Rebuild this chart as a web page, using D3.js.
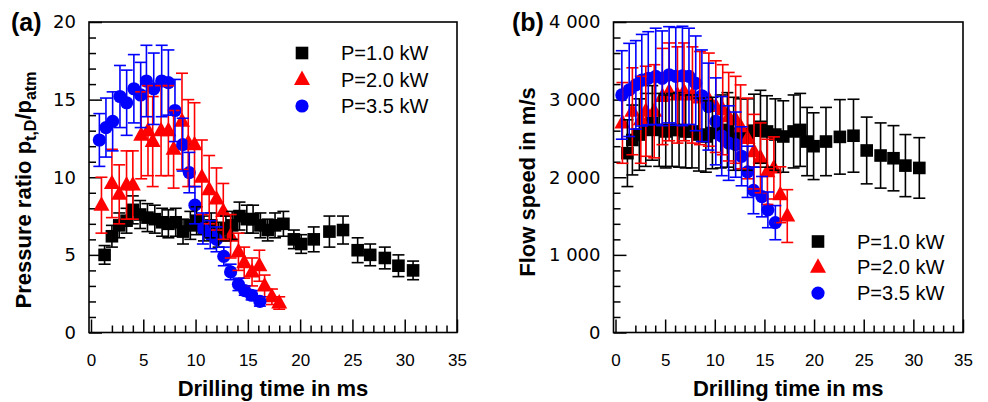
<!DOCTYPE html>
<html>
<head>
<meta charset="utf-8">
<script src="https://cdn.jsdelivr.net/npm/d3@7"></script>
<style>
body { margin: 0; background: #fff; }
svg { display: block; font-family: "Liberation Sans", Arial, sans-serif; }
</style>
</head>
<body>
<div id="chart"></div>
<script>
// series labels
var seriesNames = ["P=1.0 kW", "P=2.0 kW", "P=3.5 kW"];

// axis ticks
var xMajor = [0, 5, 10, 15, 20, 25, 30, 35];
var xMinor = [2, 3, 4, 6, 7, 8, 9, 11, 12, 13, 14, 16, 17, 18, 19, 21, 22, 23, 24, 26, 27, 28, 29, 31, 32, 33, 34];
var yMajorA = [0, 5, 10, 15, 20];
var yMinorA = [1, 2, 3, 4, 6, 7, 8, 9, 11, 12, 13, 14, 16, 17, 18, 19];
var yMajorB = [0, 1000, 2000, 3000, 4000];
var yMinorB = [200, 400, 600, 800, 1200, 1400, 1600, 1800, 2200, 2400, 2600, 2800, 3200, 3400, 3600, 3800];

// (a) pressure ratio
var timeA1 = [1.3, 2.0, 2.7, 3.4, 4.0, 4.7, 5.4, 6.1, 6.8, 7.4, 8.1, 8.8, 9.5, 10.1, 10.8, 11.5, 12.2, 12.9, 13.5, 14.2, 14.9, 15.5, 16.2, 16.9, 17.6, 18.4, 19.4, 20.1, 21.3, 22.8, 24.1, 25.5, 26.7, 28.1, 29.4, 30.8];
var ratioA1 = [5.0, 6.2, 6.9, 7.2, 7.9, 7.6, 7.4, 7.3, 7.1, 7.0, 7.1, 6.5, 6.9, 7.2, 6.7, 6.9, 6.3, 6.7, 6.9, 7.5, 7.3, 7.3, 6.9, 6.6, 6.9, 7.0, 6.0, 5.7, 6.0, 6.5, 6.6, 5.3, 5.0, 4.8, 4.3, 4.0];
var errA1 = [0.6, 0.7, 0.8, 0.8, 0.9, 0.9, 0.9, 0.9, 0.9, 0.9, 0.9, 0.8, 0.9, 0.9, 0.8, 0.8, 0.8, 0.8, 0.9, 0.9, 0.9, 0.9, 0.8, 0.7, 0.8, 0.8, 0.6, 0.6, 0.8, 1.0, 0.9, 0.8, 0.7, 0.7, 0.7, 0.6];

var timeA2 = [1.0, 2.0, 2.7, 3.4, 4.0, 4.8, 5.45, 5.9, 6.7, 7.4, 7.9, 8.7, 9.3, 9.9, 10.6, 11.3, 12.0, 12.65, 13.35, 14.1, 14.65, 15.4, 16.1, 16.6, 17.3, 18.0];
var ratioA2 = [8.2, 9.6, 8.9, 9.5, 9.5, 12.7, 13.0, 12.3, 13.0, 13.0, 11.8, 13.6, 12.2, 12.1, 10.0, 9.2, 8.6, 7.8, 6.2, 5.2, 4.5, 3.9, 4.3, 3.0, 2.3, 1.9];
var errA2 = [1.8, 2.2, 1.9, 2.2, 2.2, 2.8, 2.9, 2.9, 2.9, 2.9, 2.5, 3.1, 2.8, 2.7, 2.4, 2.2, 2.0, 1.8, 1.4, 1.2, 1.0, 0.9, 1.0, 0.7, 0.5, 0.4];

var timeA3 = [0.8, 1.43, 2.07, 2.77, 3.41, 4.1, 4.75, 5.3, 6.0, 6.76, 7.4, 8.03, 8.77, 9.4, 9.94, 10.7, 11.4, 12.0, 12.7, 13.35, 14.1, 14.7, 15.36, 16.15];
var ratioA3 = [12.4, 13.2, 13.6, 15.2, 14.8, 15.7, 15.3, 16.2, 15.7, 16.2, 16.1, 14.3, 12.1, 10.3, 8.2, 6.7, 6.3, 6.0, 4.9, 3.9, 3.1, 2.7, 2.4, 2.0];
var errA3 = [1.7, 1.9, 1.9, 2.0, 2.1, 2.2, 2.1, 2.3, 2.3, 2.3, 2.1, 2.0, 1.7, 1.3, 1.2, 1.0, 0.9, 0.8, 0.6, 0.5, 0.4, 0.3, 0.3, 0.3];

// (b) flow speed
var timeB1 = [1.2, 1.7, 2.4, 3.05, 3.7, 4.4, 5.06, 5.7, 6.4, 7.07, 7.7, 8.4, 9.1, 9.76, 10.6, 11.27, 11.9, 12.6, 13.3, 13.95, 14.6, 15.26, 16.1, 16.9, 17.94, 18.6, 19.3, 19.95, 21.2, 22.6, 23.97, 25.3, 26.7, 28.0, 29.2, 30.6];
var speedB1 = [2310, 2480, 2550, 2610, 2700, 2610, 2590, 2610, 2610, 2590, 2590, 2550, 2525, 2570, 2590, 2610, 2560, 2550, 2550, 2600, 2650, 2590, 2550, 2525, 2590, 2610, 2460, 2400, 2460, 2520, 2535, 2345, 2280, 2245, 2150, 2120];
var errB1 = [430, 450, 460, 470, 480, 470, 470, 470, 480, 470, 470, 470, 460, 460, 470, 480, 470, 460, 460, 470, 470, 460, 460, 460, 470, 470, 440, 430, 440, 480, 470, 430, 420, 420, 400, 390];

var timeB2 = [0.7, 1.7, 2.55, 3.05, 3.9, 4.73, 5.4, 6.24, 6.9, 7.75, 8.5, 9.4, 10.1, 10.8, 11.4, 12.1, 12.6, 13.3, 13.95, 14.6, 15.3, 15.95, 16.6, 17.3];
var speedB2 = [2700, 2850, 2740, 2850, 2850, 3040, 3100, 3060, 3100, 3060, 3020, 3000, 2910, 2870, 2780, 2740, 2650, 2500, 2330, 2250, 2070, 2120, 1775, 1500];
var errB2 = [520, 560, 560, 580, 600, 620, 630, 620, 630, 620, 600, 600, 590, 580, 570, 560, 540, 520, 480, 450, 420, 400, 360, 340];

var timeB3 = [0.64, 1.38, 2.05, 2.65, 3.3, 4.05, 4.7, 5.4, 6.07, 6.74, 7.4, 8.08, 8.7, 9.36, 10.1, 10.7, 11.4, 12.1, 12.7, 13.3, 13.9, 14.75, 15.35, 16.1];
var speedB3 = [3060, 3125, 3190, 3250, 3275, 3300, 3275, 3320, 3300, 3305, 3300, 3210, 3050, 2910, 2720, 2530, 2440, 2420, 2270, 2070, 1830, 1750, 1580, 1415];
var errB3 = [570, 600, 570, 590, 600, 620, 610, 620, 630, 640, 620, 610, 590, 560, 560, 510, 480, 420, 380, 330, 300, 260, 230, 220];

var colors = ["#000000", "#ff0000", "#0000ff"];
var shapes = ["square", "triangle", "circle"];

function main() {
    var svg = d3.select("#chart")
        .append("svg")
        .attr("width", 988)
        .attr("height", 402);

    drawPanel(svg, {
        left: 89, right: 457, top: 22, bottom: 332.5,
        xStart: 91, yMax: 20,
        yMajor: yMajorA, yMinor: yMinorA,
        yFormat: d3.format("d"),
        data: [[timeA1, ratioA1, errA1], [timeA2, ratioA2, errA2], [timeA3, ratioA3, errA3]],
        tag: "(a)", tagX: 11,
        yTitleX: 31, yTitleY: 190,
        yTitle: [["Pressure ratio p", 0], ["t,D", 1], ["/p", 0], ["atm", 1]],
        legendX: 302, legendY: 53, legendDy: 26.5
    });

    drawPanel(svg, {
        left: 613.5, right: 963, top: 22, bottom: 332.5,
        xStart: 615.5, yMax: 4000,
        yMajor: yMajorB, yMinor: yMinorB,
        yFormat: function(d) { return d3.format(",")(d).replace(",", " "); },
        data: [[timeB1, speedB1, errB1], [timeB2, speedB2, errB2], [timeB3, speedB3, errB3]],
        tag: "(b)", tagX: 512,
        yTitleX: 535, yTitleY: 182,
        yTitle: [["Flow speed in m/s", 0]],
        legendX: 818, legendY: 241.5, legendDy: 25.8
    });
}

function drawPanel(svg, o) {
    var x = d3.scaleLinear().domain([0, 35]).range([o.xStart, o.right]);
    var y = d3.scaleLinear().domain([0, o.yMax]).range([o.bottom, o.top]);
    var g = svg.append("g");

    // ticks (inward)
    var xa = g.append("g").attr("transform", "translate(0," + o.bottom + ")")
        .call(d3.axisBottom(x).tickValues(xMajor).tickSize(-13).tickPadding(21));
    g.append("g").attr("transform", "translate(0," + o.bottom + ")")
        .call(d3.axisBottom(x).tickValues(xMinor).tickSize(-7).tickFormat(""));
    var ya = g.append("g").attr("transform", "translate(" + o.left + ",0)")
        .call(d3.axisLeft(y).tickValues(o.yMajor).tickSize(-13).tickPadding(13).tickFormat(o.yFormat));
    g.append("g").attr("transform", "translate(" + o.left + ",0)")
        .call(d3.axisLeft(y).tickValues(o.yMinor).tickSize(-7).tickFormat(""));

    g.selectAll(".domain").remove();
    g.selectAll(".tick line").attr("stroke", "#000").attr("stroke-width", 1.5);
    xa.attr("font-family", null).attr("font-size", 17);
    // y labels are set wider in the reference
    ya.attr("font-family", "DejaVu Sans").attr("font-size", 18);
    g.selectAll(".tick text").attr("fill", "#000");

    // frame
    g.append("rect")
        .attr("x", o.left).attr("y", o.top)
        .attr("width", o.right - o.left).attr("height", o.bottom - o.top)
        .attr("fill", "none").attr("stroke", "#000").attr("stroke-width", 1.6);

    // markers first, error bars over them
    var markers = g.append("g");
    var bars = g.append("g");
    o.data.forEach(function(s, i) {
        var pts = s[0].map(function(t, k) { return { t: t, v: s[1][k], e: s[2][k] }; });
        drawMarkers(markers, pts, x, y, i);
        var bg = bars.append("g").attr("stroke", colors[i]).attr("stroke-width", 1.6);
        pts.forEach(function(d) {
            var cx = x(d.t);
            bg.append("line").attr("x1", cx).attr("x2", cx)
                .attr("y1", y(d.v - d.e)).attr("y2", y(d.v + d.e));
            bg.append("line").attr("x1", cx - 6).attr("x2", cx + 6)
                .attr("y1", y(d.v + d.e)).attr("y2", y(d.v + d.e));
            bg.append("line").attr("x1", cx - 6).attr("x2", cx + 6)
                .attr("y1", y(d.v - d.e)).attr("y2", y(d.v - d.e));
        });
    });

    // legend
    seriesNames.forEach(function(name, i) {
        var ly = o.legendY + i * o.legendDy;
        drawShape(g, o.legendX, ly, i);
        g.append("text")
            .attr("x", o.legendX + 39).attr("y", ly + 7)
            .attr("font-size", 20)
            .text(name);
    });

    // panel tag
    g.append("text")
        .attr("x", o.tagX).attr("y", 31)
        .attr("font-size", 25).attr("font-weight", "bold")
        .text(o.tag);

    // x title
    g.append("text")
        .attr("x", (o.left + o.right) / 2).attr("y", 396)
        .attr("text-anchor", "middle")
        .attr("font-size", 22).attr("font-weight", "bold")
        .text("Drilling time in ms");

    // y title
    var yt = g.append("text")
        .attr("transform", "translate(" + o.yTitleX + "," + o.yTitleY + ") rotate(-90)")
        .attr("text-anchor", "middle")
        .attr("font-size", 21).attr("font-weight", "bold");
    var shift = 0;
    o.yTitle.forEach(function(p) {
        var dy = p[1] ? 5 - shift : -shift;
        shift = p[1] ? 5 : 0;
        yt.append("tspan").attr("dy", dy).attr("font-size", p[1] ? 16 : 22).text(p[0]);
    });
}

function drawMarkers(g, pts, x, y, i) {
    pts.forEach(function(d) {
        drawShape(g, x(d.t), y(d.v), i);
    });
}

function drawShape(g, cx, cy, i) {
    if (shapes[i] == "square") {
        g.append("rect").attr("x", cx - 6.3).attr("y", cy - 6.3)
            .attr("width", 12.6).attr("height", 12.6).attr("fill", colors[i]);
    } else if (shapes[i] == "triangle") {
        g.append("path")
            .attr("d", "M" + cx + "," + (cy - 9) + "L" + (cx + 8) + "," + (cy + 5.5) + "L" + (cx - 8) + "," + (cy + 5.5) + "Z")
            .attr("fill", colors[i]);
    } else {
        g.append("circle").attr("cx", cx).attr("cy", cy).attr("r", 6.6).attr("fill", colors[i]);
    }
}

main();
</script>
</body>
</html>
